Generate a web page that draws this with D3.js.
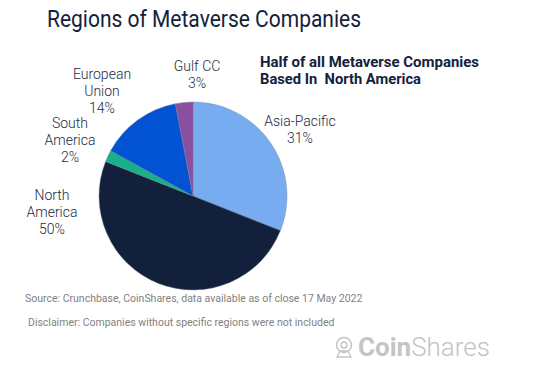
<!DOCTYPE html>
<html>
<head>
<meta charset="utf-8">
<script src="https://cdn.jsdelivr.net/npm/d3@7"></script>
<style>
  body { margin: 0; background: #fff; }
  text { font-family: Roboto, "Noto Sans", sans-serif; white-space: pre; }
</style>
</head>
<body>
<div id="chart"></div>
<script>
const regions = ['Asia-Pacific', 'North America', 'South America', 'European Union', 'Gulf CC']
const shares = [31, 50, 2, 14, 3]
const colors = ['#78acf0', '#12203b', '#18b088', '#0253d3', '#8b4f9f']
// label lines and anchor positions
const labelLines = [['Asia-Pacific'], ['North', 'America'], ['South', 'America'], ['European', 'Union'], ['Gulf CC']]
const labelPos = [[300, 126], [52, 200], [70, 128], [102, 79], [197, 71]]

const width = 544, height = 368
const svg = d3.select('#chart').append('svg')
	.attr('width', width)
	.attr('height', height)

svg.append('text')
	.attr('x', 47).attr('y', 27)
	.attr('font-size', 23.5)
	.attr('textLength', 314)
	.attr('lengthAdjust', 'spacingAndGlyphs')
	.attr('fill', '#14213d')
	.text('Regions of Metaverse Companies')

const sub = svg.append('text')
	.attr('x', 260).attr('y', 67)
	.attr('font-size', 14.5)
	.attr('font-weight', 'bold')
	.attr('fill', '#14213d')
sub.append('tspan').attr('x', 260).attr('textLength', 219).attr('lengthAdjust', 'spacingAndGlyphs')
	.text('Half of all Metaverse Companies')
sub.append('tspan').attr('x', 260).attr('dy', 17).attr('textLength', 161).attr('lengthAdjust', 'spacingAndGlyphs')
	.text('Based In  North America')

const radius = 94
const g = svg.append('g').attr('transform', 'translate(193,196)')

const pie = d3.pie().sort(null).value(d => d)
const arc = d3.arc().innerRadius(0).outerRadius(radius)

g.selectAll('path.slice')
	.data(pie(shares))
	.join('path')
		.attr('class', 'slice')
		.attr('d', arc)
		.attr('fill', (d, i) => colors[i])
		.attr('stroke', '#6f7f90')
		.attr('stroke-width', 0.4)

const labels = svg.selectAll('text.lbl')
	.data(regions)
	.join('text')
		.attr('class', 'lbl')
		.attr('text-anchor', 'middle')
		.attr('font-size', 14)
		.attr('font-weight', 300)
		.attr('fill', '#1c2a44')

labels.each(function(d, i) {
	const t = d3.select(this)
	const [x, y] = labelPos[i]
	const lines = labelLines[i].concat([shares[i] + '%'])
	lines.forEach((l, j) => {
		t.append('tspan').attr('x', x).attr('y', y + j * 17).text(l)
	})
})

svg.append('text')
	.attr('x', 25).attr('y', 302)
	.attr('font-size', 10.5)
	.attr('fill', '#7f7f7f')
	.text('Source: Crunchbase, CoinShares, data available as of close 17 May 2022')

svg.append('text')
	.attr('x', 28).attr('y', 326)
	.attr('font-size', 10.5)
	.attr('fill', '#7f7f7f')
	.text('Disclaimer: Companies without specific regions were not included')

// CoinShares logo
const logo = svg.append('g').attr('transform', 'translate(335,336)')
logo.append('circle').attr('cx', 9).attr('cy', 9).attr('r', 7.5)
	.attr('fill', 'none').attr('stroke', '#c4c4c4').attr('stroke-width', 1.5)
logo.append('circle').attr('cx', 9).attr('cy', 9).attr('r', 3)
	.attr('fill', 'none').attr('stroke', '#c4c4c4').attr('stroke-width', 1.3)
logo.append('path').attr('d', 'M2,21 L16,21 L13,15 L5,15 Z')
	.attr('fill', 'none').attr('stroke', '#c4c4c4').attr('stroke-width', 1.3)

const brand = svg.append('text')
	.attr('x', 358).attr('y', 356)
	.attr('font-size', 26)
	.attr('fill', '#c4c4c4')
brand.append('tspan').attr('font-weight', 'bold').text('Coin')
brand.append('tspan').attr('font-weight', 300).text('Shares')
</script>
</body>
</html>
